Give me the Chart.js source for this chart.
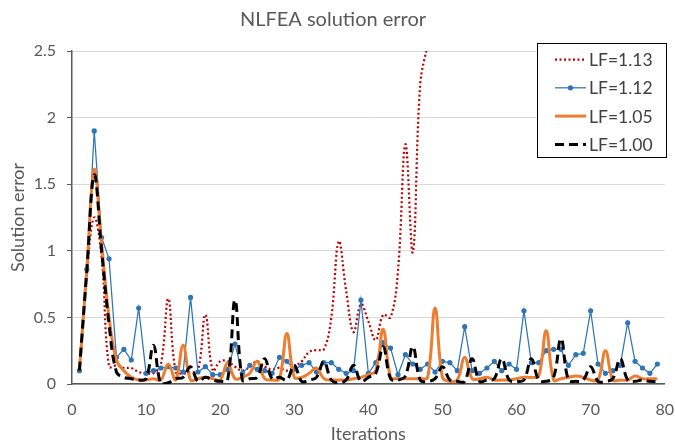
<!DOCTYPE html>
<html>
<head>
<meta charset="utf-8">
<script src="https://cdn.jsdelivr.net/npm/chart.js@4"></script>
<style>
  html, body { margin: 0; padding: 0; background: #fff; }
  #wrap { width: 675px; height: 445px; }
</style>
</head>
<body>
<div id="wrap"><canvas id="chartError" width="675" height="445"></canvas></div>
<script>
// Iteration numbers (x values)
const iterations = [1, 2, 3, 4, 5, 6, 7, 8, 9, 10, 11, 12, 13, 14, 15, 16, 17, 18, 19, 20,
    21, 22, 23, 24, 25, 26, 27, 28, 29, 30, 31, 32, 33, 34, 35, 36, 37, 38, 39, 40,
    41, 42, 43, 44, 45, 46, 47, 48, 49, 50, 51, 52, 53, 54, 55, 56, 57, 58, 59, 60,
    61, 62, 63, 64, 65, 66, 67, 68, 69, 70, 71, 72, 73, 74, 75, 76, 77, 78, 79];

// LF=1.13 diverges after iteration 48
const lf113 = [0.1, 0.83, 1.25, 0.95, 0.13, 0.14, 0.12, 0.12, 0.09, 0.08,
    0.08, 0.15, 0.64, 0.09, 0.08, 0.09, 0.1, 0.52, 0.1, 0.17,
    0.17, 0.13, 0.1, 0.13, 0.17, 0.13, 0.11, 0.12, 0.1, 0.13,
    0.17, 0.24, 0.255, 0.26, 0.5, 1.07, 0.7, 0.39, 0.6, 0.47,
    0.33, 0.52, 0.5, 0.85, 1.8, 0.99, 2.25, 2.55];

const lf112 = [0.1, 0.86, 1.9, 1.1, 0.94, 0.2, 0.26, 0.18, 0.57, 0.08,
    0.1, 0.12, 0.13, 0.12, 0.09, 0.65, 0.09, 0.13, 0.07, 0.07,
    0.11, 0.3, 0.08, 0.14, 0.11, 0.1, 0.08, 0.2, 0.17, 0.11,
    0.14, 0.16, 0.09, 0.16, 0.16, 0.11, 0.08, 0.1, 0.63, 0.08,
    0.16, 0.31, 0.27, 0.07, 0.22, 0.15, 0.11, 0.15, 0.09, 0.17,
    0.16, 0.1, 0.43, 0.1, 0.08, 0.12, 0.17, 0.1, 0.15, 0.11,
    0.55, 0.16, 0.16, 0.25, 0.26, 0.26, 0.14, 0.22, 0.23, 0.55,
    0.15, 0.08, 0.1, 0.14, 0.46, 0.17, 0.12, 0.08, 0.15];

const lf105 = [0.1, 0.86, 1.61, 1.05, 0.5, 0.18, 0.1, 0.05, 0.03, 0.03,
    0.04, 0.03, 0.15, 0.03, 0.29, 0.03, 0.04, 0.05, 0.04, 0.03,
    0.16, 0.04, 0.05, 0.08, 0.17, 0.04, 0.03, 0.04, 0.38, 0.05,
    0.05, 0.08, 0.12, 0.04, 0.03, 0.03, 0.03, 0.04, 0.05, 0.07,
    0.1, 0.41, 0.05, 0.04, 0.04, 0.04, 0.04, 0.05, 0.57, 0.05,
    0.02, 0.03, 0.2, 0.04, 0.04, 0.05, 0.03, 0.03, 0.03, 0.04,
    0.05, 0.05, 0.06, 0.4, 0.03, 0.04, 0.05, 0.06, 0.05, 0.03,
    0.03, 0.25, 0.03, 0.03, 0.03, 0.06, 0.04, 0.04, 0.04];

const lf100 = [0.1, 0.85, 1.57, 1.0, 0.45, 0.09, 0.05, 0.04, 0.03, 0.04,
    0.29, 0.0, 0.01, 0.04, 0.05, 0.13, 0.02, 0.05, 0.03, 0.02,
    0.03, 0.63, 0.03, 0.04, 0.05, 0.19, 0.04, 0.05, 0.03, 0.14,
    0.02, 0.03, 0.05, 0.17, 0.03, 0.01, 0.03, 0.14, 0.02, 0.05,
    0.08, 0.28, 0.04, 0.03, 0.06, 0.28, 0.03, 0.02, 0.04, 0.13,
    0.03, 0.02, 0.02, 0.19, 0.02, 0.03, 0.04, 0.19, 0.03, 0.02,
    0.03, 0.19, 0.03, 0.02, 0.05, 0.34, 0.03, 0.02, 0.03, 0.13,
    0.02, 0.02, 0.04, 0.19, 0.03, 0.02, 0.03, 0.02, 0.02];

const seriesNames = ['LF=1.13', 'LF=1.12', 'LF=1.05', 'LF=1.00'];

const xTicks = { min: 0, max: 80, step: 10 };
const yTicks = { min: 0, max: 2.5, step: 0.5 };

const FONT = 'Lato, "Open Sans", sans-serif';
const GREY = '#595959';

// Legend drawn inside the plot, boxed, like the spreadsheet one
const boxLegend = {
    id: 'boxLegend',
    afterDraw(chart) {
        const ctx = chart.ctx;
        const x0 = 537, y0 = 43, w = 130, h = 115;
        ctx.save();
        ctx.fillStyle = '#fff';
        ctx.fillRect(x0, y0, w, h);
        ctx.strokeStyle = '#000';
        ctx.lineWidth = 1;
        ctx.strokeRect(x0 + 0.5, y0 + 0.5, w - 1, h - 1);

        chart.data.datasets.forEach((ds, row) => {
            const cy = 59.5 + row * 28.3;
            ctx.beginPath();
            ctx.setLineDash(ds.borderDash || []);
            ctx.lineWidth = ds.borderWidth;
            ctx.strokeStyle = ds.borderColor;
            ctx.moveTo(555, cy);
            ctx.lineTo(586, cy);
            ctx.stroke();
            ctx.setLineDash([]);
            if (ds.pointRadius) {
                ctx.beginPath();
                ctx.fillStyle = ds.borderColor;
                ctx.arc(570.5, cy, ds.pointRadius, 0, Math.PI * 2);
                ctx.fill();
            }
            ctx.fillStyle = '#404040';
            ctx.font = '17.5px ' + FONT;
            ctx.textBaseline = 'middle';
            ctx.fillText(ds.label, 589, cy + 1);
        });
        ctx.restore();
    }
};

const ctx = document.getElementById('chartError').getContext('2d');
new Chart(ctx, {
    type: 'line',
    data: {
        labels: iterations,
        datasets: [
            {
                label: seriesNames[0],
                data: lf113,
                borderColor: '#C00000',
                borderWidth: 2.25,
                borderDash: [2, 2.5],
                pointRadius: 0,
                tension: 0.4,
                order: 4
            },
            {
                label: seriesNames[1],
                data: lf112,
                borderColor: '#2E75B6',
                backgroundColor: '#2E75B6',
                borderWidth: 1.25,
                pointRadius: 2.6,
                pointBorderWidth: 0,
                pointBackgroundColor: '#2E75B6',
                tension: 0,
                order: 3
            },
            {
                label: seriesNames[2],
                data: lf105,
                borderColor: '#ED7D31',
                borderWidth: 3,
                pointRadius: 0,
                tension: 0.4,
                order: 2
            },
            {
                label: seriesNames[3],
                data: lf100,
                borderColor: '#000000',
                borderWidth: 3,
                borderDash: [9, 5],
                pointRadius: 0,
                tension: 0.4,
                order: 1
            }
        ]
    },
    options: {
        responsive: false,
        animation: false,
        devicePixelRatio: 1,
        layout: { padding: { left: 0, right: 9, top: 0, bottom: 0 } },
        plugins: {
            legend: { display: false },
            tooltip: { enabled: false },
            title: {
                display: true,
                text: 'NLFEA solution error',
                color: GREY,
                font: { family: FONT, size: 20, weight: 'normal' },
                padding: { top: 8, bottom: 19 }
            }
        },
        scales: {
            x: {
                type: 'linear',
                min: xTicks.min,
                max: xTicks.max,
                afterFit: s => { s.height = 61; },
                // tick marks kept invisible, only used to push labels down
                grid: { drawOnChartArea: false, tickLength: 15, tickColor: 'rgba(0,0,0,0)' },
                border: { color: GREY, width: 1.5 },
                ticks: {
                    stepSize: xTicks.step,
                    color: GREY,
                    padding: 1,
                    maxRotation: 0,
                    font: { family: FONT, size: 16 }
                },
                title: {
                    display: true,
                    text: 'Iterations',
                    color: GREY,
                    font: { family: FONT, size: 18 },
                    padding: { top: 0, bottom: 0 }
                }
            },
            y: {
                min: yTicks.min,
                max: yTicks.max,
                afterFit: s => { s.width = 72; },
                grid: { color: '#D9D9D9', tickColor: GREY, tickLength: 5, lineWidth: 1 },
                border: { color: GREY, width: 1.5 },
                ticks: {
                    stepSize: yTicks.step,
                    color: GREY,
                    padding: 11,
                    font: { family: FONT, size: 16 },
                    callback: v => String(v)
                },
                title: {
                    display: true,
                    text: 'Solution error',
                    color: GREY,
                    font: { family: FONT, size: 18 },
                    padding: { top: 7, bottom: 0 }
                }
            }
        }
    },
    plugins: [boxLegend]
});
</script>
</body>
</html>
